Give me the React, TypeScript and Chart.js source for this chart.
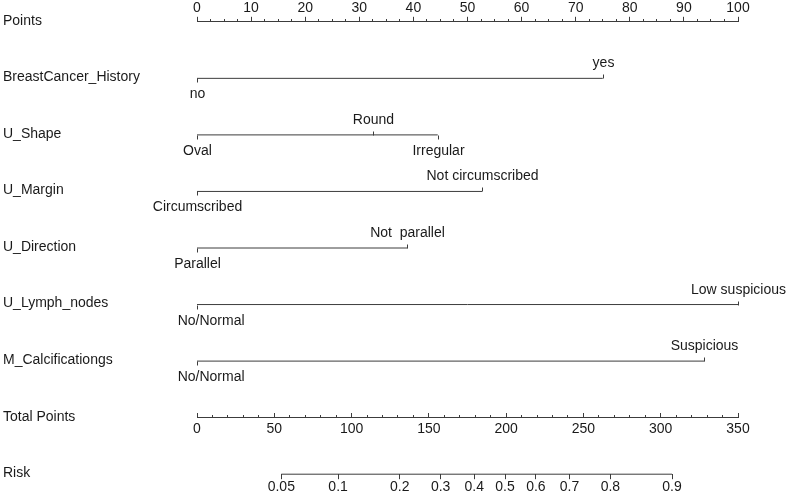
import React, { useEffect, useRef } from 'react';
import { Chart, registerables } from 'chart.js';

Chart.register(...registerables);

// ---------- data ----------
const rowNames = [
  'Points',
  'BreastCancer_History',
  'U_Shape',
  'U_Margin',
  'U_Direction',
  'U_Lymph_nodes',
  'M_Calcificationgs',
  'Total Points',
  'Risk',
];

const breastLevels = ['no', 'yes'];
const breastPoints = [0, 75];
const shapeLevels = ['Oval', 'Round', 'Irregular'];
const shapePoints = [0, 32.5, 44.5];
const marginLevels = ['Circumscribed', 'Not circumscribed'];
const marginPoints = [0, 52.7];
const directionLevels = ['Parallel', 'Not  parallel'];
const directionPoints = [0, 38.9];
const lymphLevels = ['       No/Normal', 'Low suspicious'];
const lymphPoints = [0, 100];
const calcLevels = ['       No/Normal', 'Suspicious'];
const calcPoints = [0, 93.8];

const pointsMax = 100;
const pointsMajorStep = 10;
const pointsMinorStep = 2.5;
const totalMax = 350;
const totalMajorStep = 50;
const totalMinorStep = 10;

const riskTicks = [0.05, 0.1, 0.2, 0.3, 0.4, 0.5, 0.6, 0.7, 0.8, 0.9];
const riskTickLabels = ['0.05', '0.1', '0.2', '0.3', '0.4', '0.5', '0.6', '0.7', '0.8', '0.9'];
// linear predictor = riskSlope * (totalPoints - riskHalfTotal)
const riskSlope = 0.02034;
const riskHalfTotal = 199.3;

// ---------- derived ----------
const variables = [
  { levels: breastLevels, points: breastPoints },
  { levels: shapeLevels, points: shapePoints },
  { levels: marginLevels, points: marginPoints },
  { levels: directionLevels, points: directionPoints },
  { levels: lymphLevels, points: lymphPoints },
  { levels: calcLevels, points: calcPoints },
];
const logit = (p: number) => Math.log(p / (1 - p));
const totalRow = rowNames.indexOf('Total Points');
const riskRow = rowNames.indexOf('Risk');

// ---------- style ----------
const LINE = '#3c3c3c';
const TEXT = '#1a1a1a';
const FAMILY = '"Liberation Sans", Arial, Helvetica, sans-serif';
const FONT_SIZE = 14;

const nomogramPlugin = {
  id: 'nomogramLabels',
  afterDraw(chart: any) {
    const ctx = chart.ctx as CanvasRenderingContext2D;
    const xs = chart.scales.x;
    const ys = chart.scales.y;
    ctx.save();
    ctx.font = `${FONT_SIZE}px ${FAMILY}`;
    ctx.fillStyle = TEXT;
    ctx.textBaseline = 'middle';
    ctx.textAlign = 'left';
    rowNames.forEach((name, i) => {
      ctx.fillText(name, 3, ys.getPixelForValue(i) - 1);
    });
    ctx.strokeStyle = LINE;
    ctx.lineWidth = 1;
    ctx.textAlign = 'center';
    variables.forEach((v, i) => {
      const y = Math.round(ys.getPixelForValue(i + 1)) + 0.5;
      const order = v.points.map((_, k) => k).sort((a, b) => v.points[a] - v.points[b]);
      order.forEach((k, rank) => {
        const above = rank % 2 === 1;
        const x = Math.round(xs.getPixelForValue(v.points[k])) + 0.5;
        ctx.beginPath();
        ctx.moveTo(x, y);
        ctx.lineTo(x, y + (above ? -4 : 4));
        ctx.stroke();
        ctx.fillText(v.levels[k], x, y + (above ? -15 : 16));
      });
    });
    ctx.restore();
  },
};

export default function App() {
  const canvasRef = useRef<HTMLCanvasElement | null>(null);

  useEffect(() => {
    if (!canvasRef.current) return;
    const tickFont = { family: FAMILY, size: FONT_SIZE };
    const datasets: any[] = variables.map((v, i) => ({
      data: [
        { x: Math.min(...v.points), y: i + 1 },
        { x: Math.max(...v.points), y: i + 1 },
      ],
      xAxisID: 'x',
      yAxisID: 'y',
      showLine: true,
      borderColor: LINE,
      borderWidth: 1,
      pointRadius: 0,
      clip: false,
    }));
    datasets.push({
      data: [
        { x: logit(riskTicks[0]), y: riskRow },
        { x: logit(riskTicks[riskTicks.length - 1]), y: riskRow },
      ],
      xAxisID: 'risk',
      yAxisID: 'y',
      showLine: true,
      borderColor: LINE,
      borderWidth: 1,
      pointRadius: 0,
      clip: false,
    });

    const chart = new Chart(canvasRef.current, {
      type: 'scatter',
      data: { datasets },
      options: {
        responsive: false,
        animation: false,
        layout: { padding: { left: 197, right: 50, top: 0, bottom: 0 } },
        plugins: { legend: { display: false }, tooltip: { enabled: false } },
        scales: {
          x: {
            axis: 'x',
            type: 'linear',
            position: 'top',
            min: 0,
            max: pointsMax,
            grid: { drawOnChartArea: false, drawTicks: true, tickLength: 5, tickColor: LINE, color: LINE },
            border: { display: true, color: LINE, width: 1 },
            ticks: { stepSize: pointsMajorStep, autoSkip: false, maxRotation: 0, padding: 0, color: TEXT, font: tickFont },
          },
          xMinor: {
            axis: 'x',
            type: 'linear',
            position: { y: 0 },
            min: 0,
            max: pointsMax,
            grid: { drawOnChartArea: false, drawTicks: true, tickLength: -3, tickColor: LINE, color: LINE },
            border: { display: false },
            ticks: { display: false, stepSize: pointsMinorStep, autoSkip: false },
          },
          tp: {
            axis: 'x',
            type: 'linear',
            position: { y: totalRow },
            min: 0,
            max: totalMax,
            grid: { drawOnChartArea: false, drawTicks: true, tickLength: -5, tickColor: LINE, color: LINE },
            border: { display: true, color: LINE, width: 1 },
            ticks: { stepSize: totalMajorStep, autoSkip: false, maxRotation: 0, padding: 8, color: TEXT, font: tickFont },
          },
          tpMinor: {
            axis: 'x',
            type: 'linear',
            position: { y: totalRow },
            min: 0,
            max: totalMax,
            grid: { drawOnChartArea: false, drawTicks: true, tickLength: -3, tickColor: LINE, color: LINE },
            border: { display: false },
            ticks: { display: false, stepSize: totalMinorStep, autoSkip: false },
          },
          risk: {
            axis: 'x',
            type: 'linear',
            position: 'bottom',
            min: riskSlope * (0 - riskHalfTotal),
            max: riskSlope * (totalMax - riskHalfTotal),
            afterBuildTicks: (scale: any) => {
              scale.ticks = riskTicks.map((p) => ({ value: logit(p) }));
            },
            grid: { drawOnChartArea: false, drawTicks: true, tickLength: 5, tickColor: LINE, color: LINE },
            border: { display: false },
            ticks: {
              autoSkip: false,
              maxRotation: 0,
              padding: 0,
              color: TEXT,
              font: tickFont,
              callback: (_v: any, i: number) => riskTickLabels[i],
            },
          },
          y: {
            axis: 'y',
            type: 'linear',
            display: false,
            reverse: true,
            min: 0,
            max: riskRow,
          },
        } as any,
      },
      plugins: [nomogramPlugin],
    });
    return () => chart.destroy();
  }, []);

  return (
    <div style={{ position: 'fixed', left: 0, top: 0, width: 788, height: 496, background: '#fff' }}>
      <canvas ref={canvasRef} width={788} height={496} />
    </div>
  );
}
